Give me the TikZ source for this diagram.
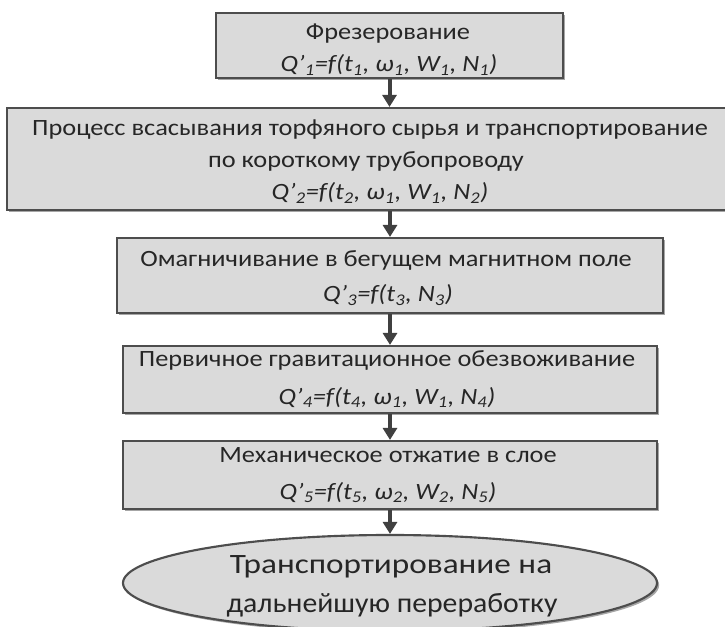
\documentclass[tikz,border=0pt]{standalone}
\usepackage{fontspec}
\setmainfont{Carlito}[FakeStretch=1.13]
\usetikzlibrary{shapes.geometric,arrows.meta,shadows}
\definecolor{boxfill}{HTML}{DADADA}
\definecolor{boxline}{HTML}{4D4D4D}
\definecolor{txt}{HTML}{262626}
\definecolor{arrcol}{HTML}{404040}
\newcommand{\sbx}[1]{\textsubscript{#1}}
\begin{document}
\begin{tikzpicture}[x=0.75pt,y=-0.75pt,
  box/.style={draw=boxline, line width=1.6pt, fill=boxfill, inner sep=0pt,
    drop shadow={shadow xshift=1.6pt, shadow yshift=-1.6pt, fill=black, opacity=0.35}},
  oval/.style={ellipse, draw=boxline, line width=1.6pt, fill=boxfill, inner sep=0pt,
    drop shadow={shadow xshift=1.6pt, shadow yshift=-1.6pt, fill=black, opacity=0.35}},
  lbl/.style={anchor=base, inner sep=0pt, text=txt, font=\fontsize{17.5}{21}\selectfont},
  big/.style={anchor=base, inner sep=0pt, text=txt, font=\fontsize{21}{29}\selectfont},
  arr/.style={draw=arrcol, line width=3pt, -{Triangle[length=9pt,width=10.5pt]}}
]
\useasboundingbox (0,0) rectangle (725,627);
\clip (0,0) rectangle (725,627);
\fill[white] (0,0) rectangle (725,627);

\node[box, minimum width=260.25pt, minimum height=48.75pt] (b1) at (389.5,45.5) {};
\node[box, minimum width=546pt, minimum height=76.5pt] (b2) at (371,159) {};
\node[box, minimum width=409.5pt, minimum height=56.25pt] (b3) at (390,275.5) {};
\node[box, minimum width=400.5pt, minimum height=50.25pt] (b4) at (390,379.5) {};
\node[box, minimum width=400.5pt, minimum height=51pt] (b5) at (390,475) {};
\node[oval, minimum width=400.5pt, minimum height=72pt] (e) at (390,583) {};

\node[lbl] (t1a) at (388,40) {Фрезерование};
\node[lbl] (t1b) at (389,72) {\textit{Q’\sbx{1}=f(t\sbx{1}, ω\sbx{1}, W\sbx{1}, N\sbx{1})}};
\node[lbl] (t2a) at (370,136) {Процесс всасывания торфяного сырья и транспортирование};
\node[lbl] (t2b) at (366,168) {по короткому трубопроводу};
\node[lbl] (t2c) at (380,200) {\textit{Q’\sbx{2}=f(t\sbx{2}, ω\sbx{1}, W\sbx{1}, N\sbx{2})}};
\node[lbl] (t3a) at (386,267) {Омагничивание в бегущем магнитном поле};
\node[lbl] (t3b) at (388,302) {\textit{Q’\sbx{3}=f(t\sbx{3}, N\sbx{3})}};
\node[lbl] (t4a) at (387,367) {Первичное гравитационное обезвоживание};
\node[lbl] (t4b) at (387,404) {\textit{Q’\sbx{4}=f(t\sbx{4}, ω\sbx{1}, W\sbx{1}, N\sbx{4})}};
\node[lbl] (t5a) at (388,462) {Механическое отжатие в слое};
\node[lbl] (t5b) at (388,499) {\textit{Q’\sbx{5}=f(t\sbx{5}, ω\sbx{2}, W\sbx{2}, N\sbx{5})}};
\node[big] (tea) at (391,573) {\scalebox{1.05}[1]{Транспортирование на}};
\node[big] (teb) at (392,612) {\scalebox{0.94}[1]{дальнейшую переработку}};

\draw[arr] (b1.south) -- (b1.south |- b2.north);
\draw[arr] (b3.north |- b2.south) -- (b3.north);
\draw[arr] (b3.south) -- (b4.north);
\draw[arr] (b4.south) -- (b5.north);
\draw[arr] (b5.south) -- (e.north);
\end{tikzpicture}
\end{document}
